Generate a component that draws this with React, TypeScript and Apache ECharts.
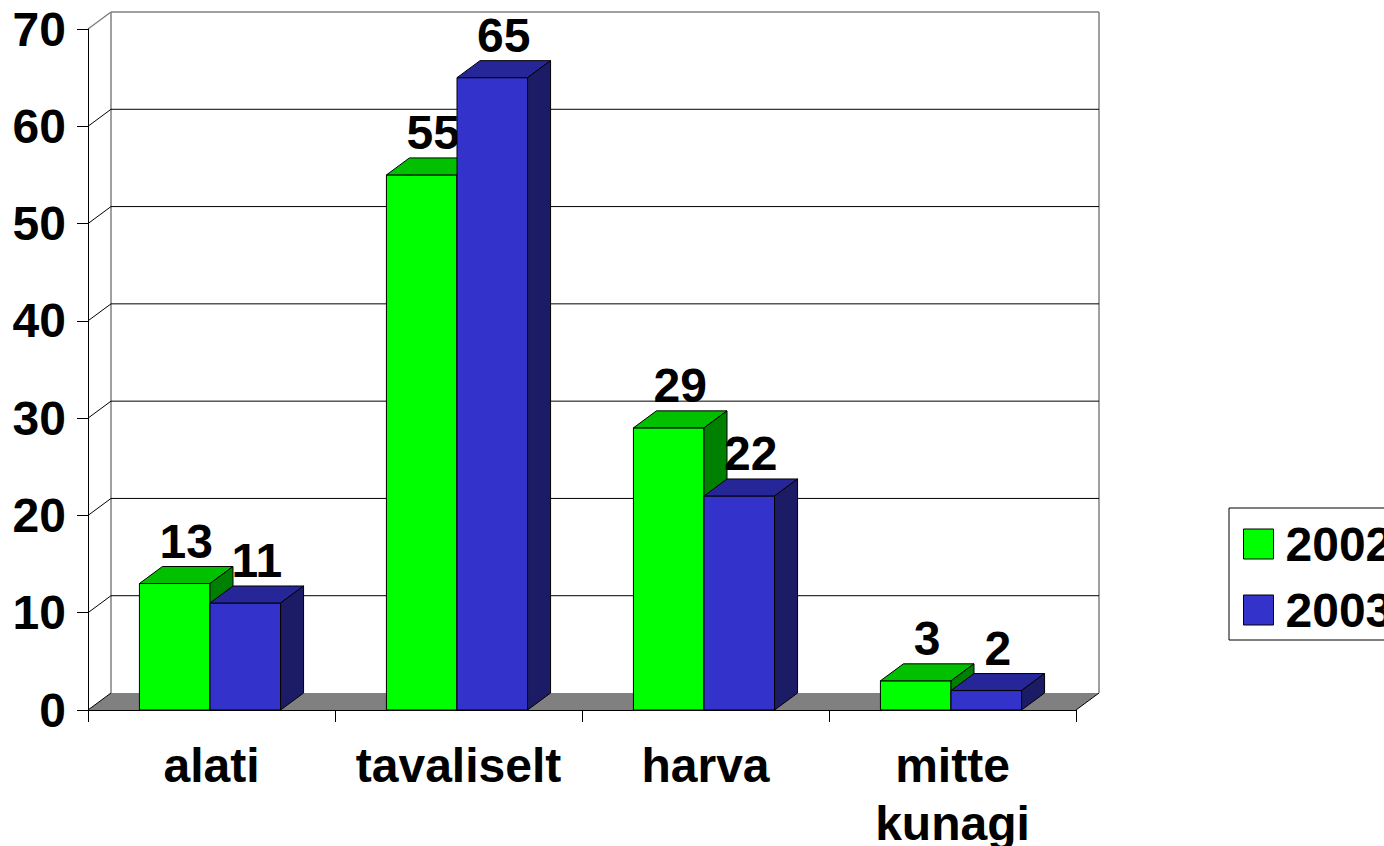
import React, { useEffect, useRef } from 'react';
import * as echarts from 'echarts';

const CATEGORIES = ['alati', 'tavaliselt', 'harva', 'mitte\nkunagi'];
const SERIES_NAMES = ['2002', '2003'];
const VALUES_2002 = [13, 55, 29, 3];
const VALUES_2003 = [11, 65, 22, 2];
const Y_TICKS = [0, 10, 20, 30, 40, 50, 60, 70];

const FONT = "'Liberation Sans', Arial, Helvetica, sans-serif";
const DX = 23;
const DY = -17;
const COLORS = [
  { front: '#00FF00', top: '#00C000', side: '#008000' },
  { front: '#3333CC', top: '#262699', side: '#1C1C66' },
];

function makeBarRenderer(seriesIdx: number) {
  return (params: any, api: any) => {
    const idx = api.value(0);
    const val = api.value(1);
    const base = api.coord([idx, 0]);
    const topPt = api.coord([idx, val]);
    const band = api.size([1, 0])[0];
    const w = band / 3.5;
    const x0 = (seriesIdx === 0 ? base[0] - w : base[0]) - 1.5;
    const x1 = x0 + w;
    const yb = base[1];
    const yt = topPt[1];
    const c = COLORS[seriesIdx];
    const stroke = { stroke: '#000', lineWidth: 1 };
    return {
      type: 'group',
      children: [
        {
          type: 'polygon',
          shape: { points: [[x0, yb], [x1, yb], [x1, yt], [x0, yt]] },
          style: { fill: c.front, ...stroke },
        },
        {
          type: 'polygon',
          shape: { points: [[x0, yt], [x1, yt], [x1 + DX, yt + DY], [x0 + DX, yt + DY]] },
          style: { fill: c.top, ...stroke },
        },
        {
          type: 'polygon',
          shape: { points: [[x1, yb], [x1 + DX, yb + DY], [x1 + DX, yt + DY], [x1, yt]] },
          style: { fill: c.side, ...stroke },
        },
        {
          type: 'text',
          style: {
            text: String(val),
            x: (x0 + x1) / 2 + DX / 2,
            y: yt - 42,
            align: 'center',
            verticalAlign: 'middle',
            fontSize: 48,
            fontWeight: 'bold',
            fontFamily: FONT,
            fill: '#000',
          },
        },
      ],
    };
  };
}

function renderWall(params: any, api: any) {
  const v = api.value(0);
  const cs = params.coordSys;
  const left = cs.x;
  const right = cs.x + cs.width;
  const yF = api.coord([0, v])[1];
  const isTop = v === Y_TICKS[Y_TICKS.length - 1];
  const children: any[] = [];
  if (v === 0) {
    const bottom = yF;
    const top = cs.y;
    children.push({
      type: 'rect',
      shape: { x: left + DX, y: top + DY, width: right - left, height: bottom - top },
      style: { fill: '#fff' },
    });
    children.push({
      type: 'polygon',
      shape: { points: [[left, yF], [right, yF], [right + DX, yF + DY], [left + DX, yF + DY]] },
      style: { fill: '#808080' },
    });
    children.push({
      type: 'line',
      shape: { x1: right, y1: yF, x2: right + DX, y2: yF + DY },
      style: { stroke: '#000', lineWidth: 1 },
    });
    children.push({
      type: 'line',
      shape: { x1: left + DX, y1: top + DY, x2: left + DX, y2: bottom + DY },
      style: { stroke: '#808080', lineWidth: 1.5 },
    });
    children.push({
      type: 'line',
      shape: { x1: right + DX, y1: top + DY, x2: right + DX, y2: bottom + DY },
      style: { stroke: '#808080', lineWidth: 1.5 },
    });
  } else {
    children.push({
      type: 'line',
      shape: { x1: left + DX, y1: yF + DY, x2: right + DX, y2: yF + DY },
      style: { stroke: isTop ? '#808080' : '#000', lineWidth: isTop ? 1.5 : 1 },
    });
  }
  children.push({
    type: 'line',
    shape: { x1: left, y1: yF, x2: left + DX, y2: yF + DY },
    style: { stroke: isTop ? '#808080' : '#000', lineWidth: isTop ? 1.5 : 1 },
  });
  return { type: 'group', children };
}

export default function App() {
  const ref = useRef<HTMLDivElement>(null);
  useEffect(() => {
    if (!ref.current) return;
    const chart = echarts.init(ref.current, undefined, { renderer: 'svg' });
    const labelStyle = {
      fontSize: 48,
      fontWeight: 'bold' as const,
      fontFamily: FONT,
      color: '#000',
    };
    chart.setOption({
      animation: false,
      backgroundColor: '#fff',
      grid: {
        left: 88,
        right: 308,
        top: 29,
        bottom: 136,
        containLabel: false,
        outerBoundsMode: 'none',
      },
      legend: {
        data: SERIES_NAMES,
        orient: 'vertical',
        left: 1229,
        top: 508,
        padding: [12, 40, 6, 14],
        itemWidth: 30,
        itemHeight: 30,
        itemGap: 18,
        icon: 'rect',
        borderColor: '#000',
        borderWidth: 1,
        itemStyle: { borderColor: '#000', borderWidth: 1 },
        textStyle: { ...labelStyle, padding: [0, 0, 0, 7] },
      },
      xAxis: {
        type: 'category',
        data: CATEGORIES,
        boundaryGap: true,
        z: 5,
        axisLine: { lineStyle: { color: '#000', width: 1 } },
        axisTick: { show: true, length: 12, interval: 0, lineStyle: { color: '#000' } },
        axisLabel: { ...labelStyle, margin: 26, lineHeight: 58, interval: 0 },
        splitLine: { show: false },
      },
      yAxis: {
        type: 'value',
        min: 0,
        max: 70,
        interval: 10,
        z: 5,
        axisLine: { show: true, lineStyle: { color: '#000', width: 1 } },
        axisTick: { show: true, length: 11, lineStyle: { color: '#000' } },
        axisLabel: { ...labelStyle, margin: 22 },
        splitLine: { show: false },
      },
      series: [
        {
          type: 'custom',
          name: 'wall',
          z: 1,
          silent: true,
          renderItem: renderWall,
          data: Y_TICKS.map((v) => [v]),
          encode: { y: 0 },
        },
        {
          type: 'custom',
          name: SERIES_NAMES[0],
          z: 2,
          itemStyle: { color: COLORS[0].front, borderColor: '#000', borderWidth: 1 },
          renderItem: makeBarRenderer(0),
          data: CATEGORIES.map((_, i) => [i, VALUES_2002[i]]),
          encode: { x: 0, y: 1 },
        },
        {
          type: 'custom',
          name: SERIES_NAMES[1],
          z: 3,
          itemStyle: { color: COLORS[1].front, borderColor: '#000', borderWidth: 1 },
          renderItem: makeBarRenderer(1),
          data: CATEGORIES.map((_, i) => [i, VALUES_2003[i]]),
          encode: { x: 0, y: 1 },
        },
      ],
    });
    return () => chart.dispose();
  }, []);
  return (
    <div
      ref={ref}
      style={{ position: 'fixed', left: 0, top: 0, width: 1384, height: 846, background: '#fff' }}
    />
  );
}
